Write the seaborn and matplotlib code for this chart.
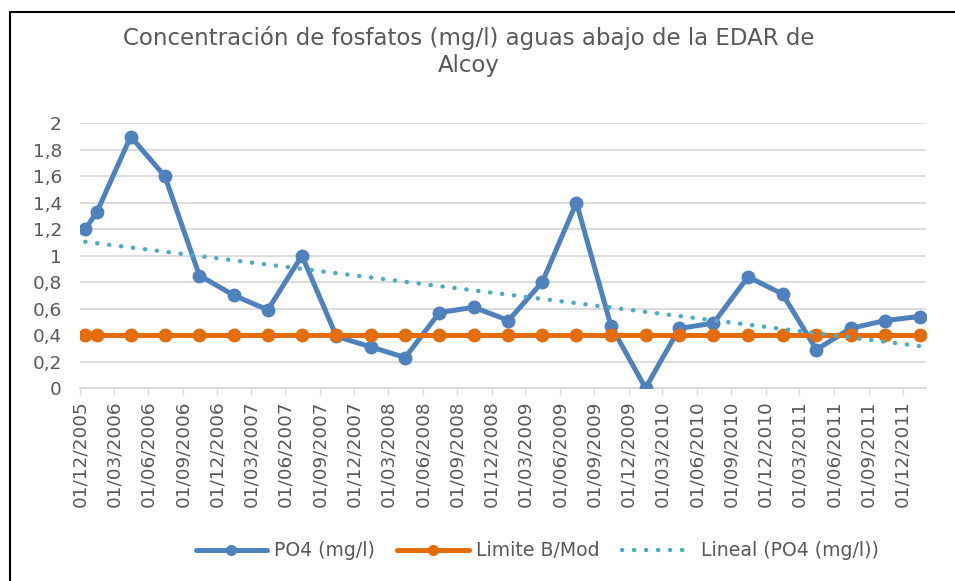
import numpy as np
import pandas as pd
import matplotlib
matplotlib.use("Agg")
import matplotlib.pyplot as plt
import matplotlib.dates as mdates
from matplotlib.lines import Line2D
import seaborn as sns

# ---- data ----
dates = ["2005-12-15", "2006-01-15", "2006-04-15", "2006-07-15", "2006-10-15",
         "2007-01-15", "2007-04-15", "2007-07-15", "2007-10-15", "2008-01-15",
         "2008-04-15", "2008-07-15", "2008-10-15", "2009-01-15", "2009-04-15",
         "2009-07-15", "2009-10-15", "2010-01-15", "2010-04-15", "2010-07-15",
         "2010-10-15", "2011-01-15", "2011-04-15", "2011-07-15", "2011-10-15",
         "2012-01-15"]
po4 = [1.20, 1.33, 1.90, 1.60, 0.85, 0.70, 0.59, 1.00, 0.39, 0.31,
       0.23, 0.57, 0.61, 0.51, 0.80, 1.40, 0.47, 0.00, 0.45, 0.49,
       0.84, 0.71, 0.29, 0.45, 0.51, 0.54]
limite = [0.4, 0.4, 0.4, 0.4, 0.4, 0.4, 0.4, 0.4, 0.4, 0.4,
          0.4, 0.4, 0.4, 0.4, 0.4, 0.4, 0.4, 0.4, 0.4, 0.4,
          0.4, 0.4, 0.4, 0.4, 0.4, 0.4]
y_ticks = [0, 0.2, 0.4, 0.6, 0.8, 1, 1.2, 1.4, 1.6, 1.8, 2]
y_labels = ["0", "0,2", "0,4", "0,6", "0,8", "1", "1,2", "1,4", "1,6", "1,8", "2"]
title = "Concentración de fosfatos (mg/l) aguas abajo de la EDAR de\nAlcoy"
labels = ["PO4 (mg/l)", "Limite B/Mod", "Lineal (PO4 (mg/l))"]

df = pd.DataFrame({"fecha": pd.to_datetime(dates), "po4": po4, "limite": limite})
# Linear trend line (as Excel's "Lineal" trendline) fitted on the data
xnum = mdates.date2num(df["fecha"])
coef = np.polyfit(xnum, df["po4"], 1)
df["tend"] = np.polyval(coef, xnum)

BLUE = "#4f81bd"
ORANGE = "#e46c0a"
TEAL = "#4bacc6"
GRID = "#d9d9d9"
TXT = "#595959"

sns.set_theme(style="white")
plt.rcParams["font.family"] = ["DejaVu Sans"]

fig = plt.figure(figsize=(9.55, 5.81), dpi=100)
W, H = 955, 581
ax = fig.add_axes([80 / W, 1 - 388 / H, (926 - 80) / W, (388 - 123.3) / H])

sns.lineplot(data=df, x="fecha", y="po4", ax=ax, color=BLUE, lw=3.6,
             marker="o", markersize=10, markeredgewidth=0, zorder=3)
sns.lineplot(data=df, x="fecha", y="limite", ax=ax, color=ORANGE, lw=3.6,
             marker="o", markersize=10, markeredgewidth=0, zorder=4)
sns.lineplot(data=df, x="fecha", y="tend", ax=ax, color=TEAL, lw=3.2,
             linestyle=(0, (0.05, 2.65)), dash_capstyle="round", zorder=5)

ax.set_ylim(0, 2)
ax.set_yticks(y_ticks)
ax.set_yticklabels(y_labels)
ax.xaxis.set_major_locator(mdates.MonthLocator(bymonth=[3, 6, 9, 12], bymonthday=1))
ax.xaxis.set_major_formatter(mdates.DateFormatter("%d/%m/%Y"))
ax.set_xlim(pd.Timestamp("2005-12-01"), pd.Timestamp("2012-02-01"))
ax.tick_params(axis="x", rotation=90, labelsize=13.3, colors=TXT, length=5,
               width=1, color=GRID, pad=4, direction="out", bottom=True)
ax.tick_params(axis="y", labelsize=13.3, colors=TXT, length=0, pad=13)
for lab in ax.get_xticklabels() + ax.get_yticklabels():
    lab.set_color(TXT)
ax.set_xlabel("")
ax.set_ylabel("")
ax.grid(axis="y", color=GRID, lw=1.3)
ax.grid(axis="x", visible=False)
ax.set_axisbelow(True)
for s in ["top", "right", "left"]:
    ax.spines[s].set_visible(False)
ax.spines["bottom"].set_color(GRID)
ax.spines["bottom"].set_linewidth(1.3)
if ax.get_legend():
    ax.get_legend().remove()

fig.text(469 / W, 1 - 26 / H, title, ha="center", va="top", fontsize=16.5,
         color=TXT, linespacing=1.22, multialignment="center")

handles = [
    Line2D([], [], color=BLUE, lw=3.6, marker="o", markersize=8, markeredgewidth=0),
    Line2D([], [], color=ORANGE, lw=3.6, marker="o", markersize=8, markeredgewidth=0),
    Line2D([], [], color=TEAL, lw=3.2, linestyle=(0, (0.05, 2.65)), dash_capstyle="round"),
]
leg = fig.legend(handles, labels, loc="center", bbox_to_anchor=(537 / W, 1 - 551 / H),
                 ncol=3, frameon=False, fontsize=13.6, handlelength=3.8,
                 handletextpad=0.35, columnspacing=1.2)
for t in leg.get_texts():
    t.set_color(TXT)

# chart border (visible at left and top)
fig.add_artist(Line2D([10 / W, 10 / W], [0, 1 - 12 / H], color="black", lw=1.5,
                      transform=fig.transFigure))
fig.add_artist(Line2D([10 / W, 1], [1 - 12 / H, 1 - 12 / H], color="black", lw=1.5,
                      transform=fig.transFigure))

fig.savefig("out.png", dpi=100)
